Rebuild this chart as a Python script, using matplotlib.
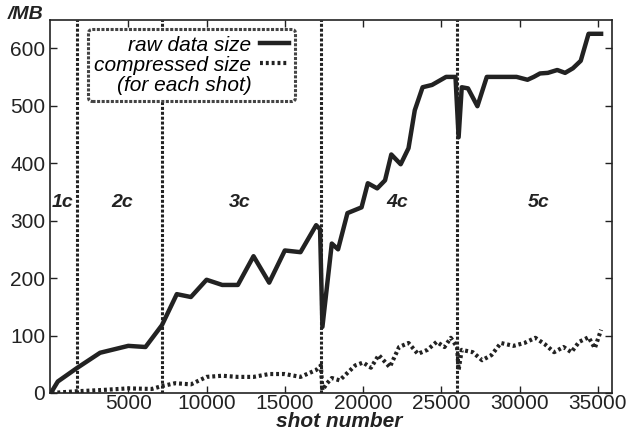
import numpy as np
import matplotlib
matplotlib.use("Agg")
from matplotlib import pyplot as plt
from matplotlib.lines import Line2D

plt.rcParams['font.family'] = ['Liberation Sans', 'DejaVu Sans']

# raw data size per shot (MB)
raw_x = [100, 500, 1700, 3200, 5000, 6100, 7150, 8100, 9000, 10000, 11000, 12000,
         13000, 14000, 15000, 16000, 17000, 17250, 17400, 18000, 18400, 19000, 19900,
         20300, 20900, 21400, 21800, 22400, 22900, 23300, 23800, 24400, 25300, 25900,
         26100, 26300, 26700, 27300, 27900, 29800, 30500, 30900, 31300, 31800, 32400,
         32900, 33400, 33900, 34400, 35200]
raw_y = [2, 20, 43, 70, 82, 80, 118, 172, 167, 197, 188, 188,
         238, 192, 248, 245, 292, 285, 115, 260, 250, 313, 323,
         365, 356, 370, 415, 398, 426, 492, 532, 536, 550, 550,
         445, 532, 530, 499, 550, 550, 545, 550, 556, 557, 562,
         557, 565, 578, 625, 625]

# compressed size per shot (MB)
comp_x = [100, 1700, 3200, 5000, 6500, 7150, 8000, 9000, 10000, 11000, 12000, 13000,
          14000, 15000, 16000, 17000, 17300, 17400, 17700, 18000, 18500, 19000, 19500,
          20000, 20500, 21000, 21700, 22300, 22900, 23500, 24100, 24700, 25200, 25600,
          26000, 26100, 26300, 27000, 27600, 28200, 28800, 29600, 30300, 31000, 31600,
          32200, 32800, 33300, 33800, 34400, 34800, 35200]
comp_y = [0, 3, 5, 8, 7, 12, 17, 15, 28, 30, 28, 28,
          33, 33, 28, 40, 48, 5, 17, 26, 22, 35, 48,
          53, 44, 66, 45, 80, 87, 68, 75, 89, 80, 96,
          80, 40, 75, 71, 57, 66, 87, 82, 87, 96, 85,
          71, 80, 71, 89, 97, 78, 110]

# configuration changes
boundaries = [1720, 7150, 17300, 26000]
region_labels = ['1c', '2c', '3c', '4c', '5c']
region_x = [800, 4600, 12100, 22200, 31200]

xticks = [5000, 10000, 15000, 20000, 25000, 30000, 35000]
yticks = [0, 100, 200, 300, 400, 500, 600]

fig = plt.figure(figsize=(6.28, 4.32), dpi=100)
ax = fig.add_axes([0.0796, 0.0903, 0.895, 0.8634])

ink = '#222222'
for b in boundaries:
    ax.axvline(b, color=ink, lw=2.2, ls=(0, (1, 0.6)), zorder=1)

ax.plot(raw_x, raw_y, color=ink, lw=3.2, solid_joinstyle='round', zorder=3)
ax.plot(comp_x, comp_y, color=ink, lw=3.0, ls=(0, (0.7, 0.7)), zorder=3)

for lab, xl in zip(region_labels, region_x):
    ax.text(xl, 332, lab, ha='center', va='center', fontsize=14,
            fontweight='bold', style='italic', color=ink)

ax.set_xlim(0, 35900)
ax.set_ylim(0, 649)
ax.set_xticks(xticks)
ax.set_yticks(yticks)
ax.tick_params(direction='in', top=True, right=True, labelsize=15, length=5,
               width=1, colors=ink)
ax.tick_params(axis='x', pad=1)
for s in ax.spines.values():
    s.set_linewidth(1.2)
    s.set_color(ink)

ax.set_xlabel('shot number', fontsize=15, fontweight='bold', style='italic',
              color=ink, va='bottom')
ax.xaxis.set_label_coords(0.515, -0.103)
fig.text(0.013, 0.985, '/MB', fontsize=14, fontweight='bold', style='italic',
         color=ink, ha='left', va='top')

handles = [Line2D([], [], color=ink, lw=3.2),
           Line2D([], [], color=ink, lw=3.0, ls=(0, (0.7, 0.7))),
           Line2D([], [], color='none')]
labels = ['raw data size', 'compressed size', '(for each shot)']
leg = ax.legend(handles, labels, loc='upper left', bbox_to_anchor=(0.068, 0.975),
                borderaxespad=0, markerfirst=False, handlelength=1.4,
                handletextpad=0.4, labelspacing=0.05, borderpad=0.3,
                prop={'style': 'italic', 'size': 15}, fancybox=True, framealpha=1)
fr = leg.get_frame()
fr.set_linestyle((0, (1, 0.5)))
fr.set_linewidth(2.2)
fr.set_edgecolor('#444444')
for t in leg.get_texts():
    t.set_ha('right')
leg._legend_box.align = 'right'

fig.savefig('out.png', dpi=100)
